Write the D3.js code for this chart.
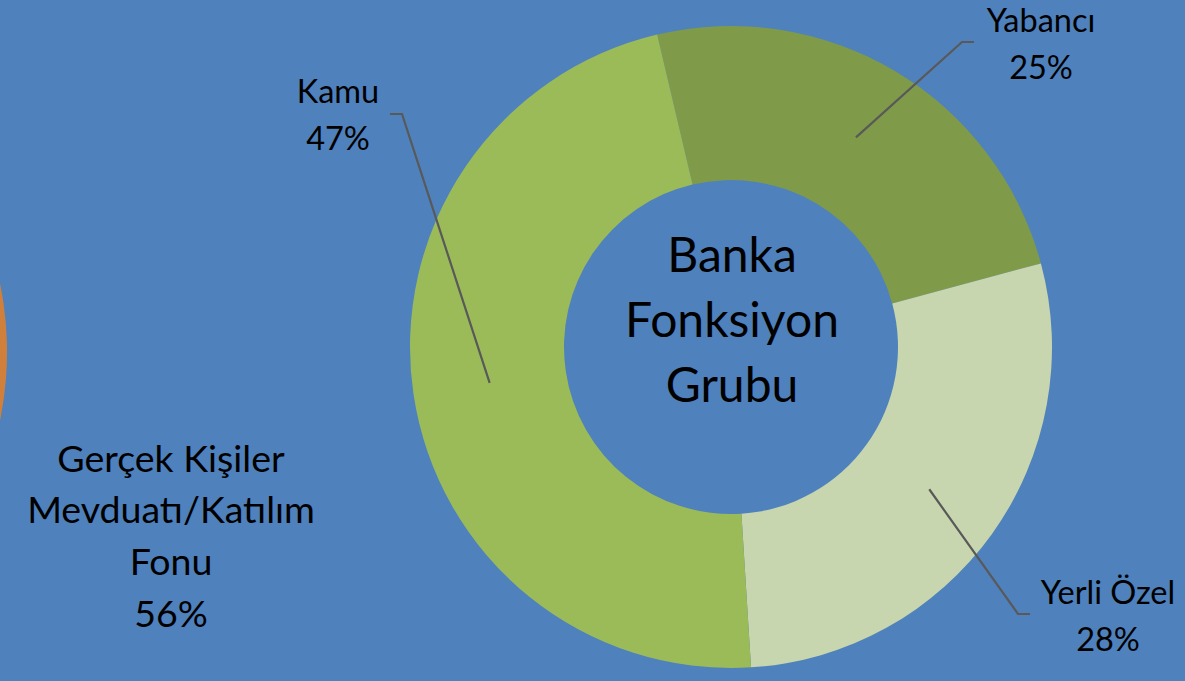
<!DOCTYPE html>
<html>
<head>
<meta charset="utf-8">
<script src="https://cdn.jsdelivr.net/npm/d3@7/dist/d3.min.js"></script>
<style>
  html, body { margin: 0; padding: 0; background: #4F81BD; }
  svg { display: block; }
  text { font-family: Lato, "Open Sans", sans-serif; fill: #000; }
</style>
</head>
<body>
<svg id="chart" width="1185" height="681"></svg>
<script>
// ---- data ----
const categories = ["Yabancı", "Yerli Özel", "Kamu"];
const values = [24.5, 28.2, 47.3];
const percentLabels = ["25%", "28%", "47%"];
const centerTitle = ["Banka", "Fonksiyon", "Grubu"];

const leftCategories = ["Gerçek Kişiler Mevduatı/Katılım Fonu"];
const leftValues = [56];
const leftLabelLines = ["Gerçek Kişiler", "Mevduatı/Katılım", "Fonu", "56%"];

// ---- style / layout ----
const W = 1185, H = 681;
const colors = ["#7F9B49", "#C7D6AE", "#9BBB59"];
const cx = 731, cy = 347, outerR = 321, innerR = 167;
const startDeg = -13.3;
// label placement relative to chart centre: text centre x, first baseline y, elbow point, line end
const labelLayout = [
  { tx: 310, ty: -315, ex: 231, ey: -305, lx: 243 },   // Yabancı
  { tx: 377, ty: 257, ex: 287, ey: 267, lx: 299 },     // Yerli Özel
  { tx: -393, ty: -244, ex: -329, ey: -233, lx: -341 } // Kamu
];

const svg = d3.select("#chart");
svg.append("rect").attr("width", W).attr("height", H).attr("fill", "#4F81BD");

// ---- left (partially visible) chart ----
const leftPie = d3.pie().sort(null).value(d => d)
  .startAngle(0).endAngle(2 * Math.PI * leftValues[0] / 100);
const leftArc = d3.arc().innerRadius(180).outerRadius(340);
const leftG = svg.append("g").attr("transform", "translate(-333,352)");
leftG.selectAll("path").data(leftPie(leftValues)).join("path")
  .attr("d", leftArc).attr("fill", "#D0803A");

const leftText = svg.append("text").attr("text-anchor", "middle")
  .style("font-size", "37.5px");
leftText.selectAll("tspan").data(leftLabelLines).join("tspan")
  .attr("x", 171).attr("y", (d, i) => 471.7 + i * 51.7).text(d => d);

// ---- main donut ----
const startA = startDeg * Math.PI / 180;
const pie = d3.pie().sort(null).value(d => d)
  .startAngle(startA).endAngle(startA + 2 * Math.PI);
const arc = d3.arc().innerRadius(innerR).outerRadius(outerR);
const g = svg.append("g").attr("transform", `translate(${cx},${cy})`);
const arcs = pie(values);

g.selectAll("path.slice").data(arcs).join("path")
  .attr("class", "slice")
  .attr("d", arc)
  .attr("fill", (d, i) => colors[i]);

// leader lines
g.selectAll("polyline.leader").data(arcs).join("polyline")
  .attr("class", "leader")
  .attr("fill", "none")
  .attr("stroke", "#595959")
  .attr("stroke-width", 2.2)
  .attr("points", (d, i) => {
    const c = arc.centroid(d);
    const L = labelLayout[i];
    return [c, [L.ex, L.ey], [L.lx, L.ey]].map(p => p.join(",")).join(" ");
  });

// labels
arcs.forEach((d, i) => {
  const L = labelLayout[i];
  const t = g.append("text").attr("text-anchor", "middle").style("font-size", "32.5px");
  t.append("tspan").attr("x", L.tx).attr("y", L.ty).text(categories[i]);
  t.append("tspan").attr("x", L.tx).attr("y", L.ty + 46.5).text(percentLabels[i]);
});

// centre title
const ct = g.append("text").attr("text-anchor", "middle").style("font-size", "48px");
ct.selectAll("tspan").data(centerTitle).join("tspan")
  .attr("x", 1).attr("y", (d, i) => -75.3 + i * 65).text(d => d);
</script>
</body>
</html>
